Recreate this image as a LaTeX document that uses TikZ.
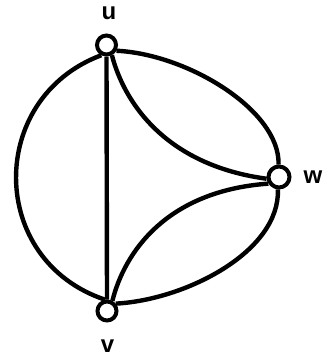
\documentclass[tikz,border=0pt]{standalone}
\usepackage{fontspec}
\setmainfont{Liberation Sans}
\begin{document}
\begin{tikzpicture}[x=1pt,y=-1pt,
  vertex/.style={circle,draw,fill=white,line width=4pt,minimum size=19pt,inner sep=0pt},
  lab/.style={font=\fontsize{24}{24}\selectfont\bfseries,inner sep=0pt},
  edge/.style={line width=4.4pt}]
\useasboundingbox (0,0) rectangle (325,360);
\node[vertex] (u) at (106.5,45) {};
\node[vertex] (v) at (107,311) {};
\node[vertex,minimum size=21pt] (w) at (279,177) {};
\node[lab] (lu) at (109,13) {u};
\node[lab] (lw) at (313,177) {w};
\node[lab] (lv) at (107.5,346) {v};
\draw[edge] (u.south) -- (v.north);
\draw[edge] (u.243) .. controls (-13,98) and (-13,260) .. (v.100);
\draw[edge] (u.-30) .. controls (187,54) and (280,110) .. (w.92);
\draw[edge] (v.40) .. controls (185,300) and (280,252) .. (w.-95);
\draw[edge] (u.-62) .. controls (124,102) and (165,165) .. (w.188);
\draw[edge] (v.62) .. controls (124,254) and (165,191) .. (w.212);
\end{tikzpicture}
\end{document}
